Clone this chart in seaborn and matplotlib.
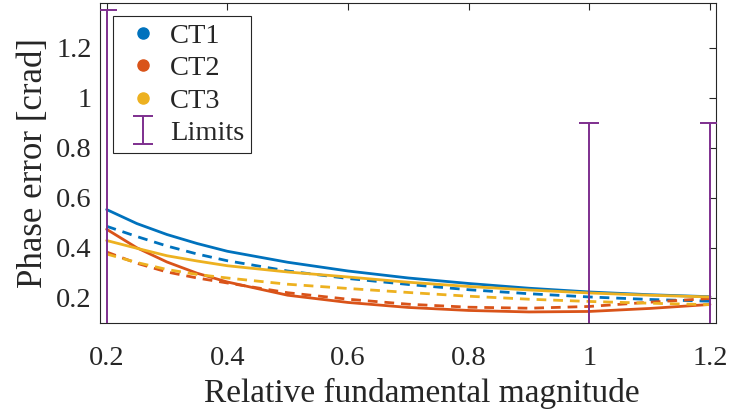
import numpy as np
import pandas as pd
import matplotlib
matplotlib.use("Agg")
import matplotlib.pyplot as plt
import seaborn as sns
from matplotlib.lines import Line2D

# ---- data ----
x_vals = [0.2, 0.25, 0.3, 0.35, 0.4, 0.5, 0.6, 0.7, 0.8, 0.9, 1.0, 1.1, 1.2]
ct1_solid = [0.553, 0.497, 0.453, 0.417, 0.386, 0.342, 0.307, 0.279, 0.257, 0.238, 0.223, 0.212, 0.204]
ct1_dashed = [0.486, 0.445, 0.407, 0.375, 0.348, 0.307, 0.277, 0.253, 0.232, 0.216, 0.203, 0.193, 0.186]
ct2_solid = [0.474, 0.400, 0.343, 0.298, 0.263, 0.210, 0.181, 0.161, 0.149, 0.143, 0.145, 0.157, 0.173]
ct2_dashed = [0.383, 0.338, 0.303, 0.279, 0.259, 0.220, 0.194, 0.174, 0.162, 0.158, 0.165, 0.182, 0.197]
ct3_solid = [0.429, 0.398, 0.368, 0.347, 0.328, 0.303, 0.283, 0.262, 0.245, 0.231, 0.219, 0.210, 0.203]
ct3_dashed = [0.375, 0.341, 0.313, 0.293, 0.279, 0.254, 0.237, 0.221, 0.206, 0.194, 0.185, 0.178, 0.172]

limit_x = [0.2, 1.0, 1.2]
limit_y = [1.35, 0.9, 0.9]
limit_low = [0.0, 0.0, 0.0]

series_names = ["CT1", "CT2", "CT3"]
x_ticks = [0.2, 0.4, 0.6, 0.8, 1.0, 1.2]
x_tick_labels = ["0.2", "0.4", "0.6", "0.8", "1", "1.2"]
y_ticks = [0.2, 0.4, 0.6, 0.8, 1.0, 1.2]
y_tick_labels = ["0.2", "0.4", "0.6", "0.8", "1", "1.2"]

# ---- build long table ----
rows = []
for name, sol, das in zip(series_names,
                          [ct1_solid, ct2_solid, ct3_solid],
                          [ct1_dashed, ct2_dashed, ct3_dashed]):
    for xv, yv in zip(x_vals, sol):
        rows.append((xv, yv, name, "solid"))
    for xv, yv in zip(x_vals, das):
        rows.append((xv, yv, name, "dashed"))
df = pd.DataFrame(rows, columns=["x", "y", "ct", "kind"])

colors = {"CT1": "#0072BD", "CT2": "#D95319", "CT3": "#EDB120"}
limit_color = "#7E2F8E"
axis_color = "#262626"

sns.set_theme(style="white")
plt.rcParams["font.family"] = ["Liberation Serif", "DejaVu Serif"]

fig = plt.figure(figsize=(7.31, 4.16), dpi=100)
ax = fig.add_axes([0.1368, 0.2243, 0.8427, 0.7685])

sns.lineplot(data=df, x="x", y="y", hue="ct", style="kind",
             palette=colors, dashes={"solid": "", "dashed": (3.5, 2.5)},
             style_order=["solid", "dashed"], units="kind", estimator=None,
             linewidth=2.0, legend=False, ax=ax, sort=False)

lo = np.array(limit_y) - np.array(limit_low)
eb = ax.errorbar(limit_x, limit_y, yerr=[lo, np.zeros(len(limit_y))], fmt="none",
                 ecolor=limit_color, elinewidth=1.4, capsize=7, capthick=1.4,
                 label="Limits", zorder=5)

ax.set_xlim(0.189, 1.21)
ax.set_ylim(0.1, 1.38)
ax.set_xticks(x_ticks)
ax.set_xticklabels(x_tick_labels)
ax.set_yticks(y_ticks)
ax.set_yticklabels(y_tick_labels)
ax.tick_params(direction="in", length=5, width=0.8, colors=axis_color,
               labelsize=20.5, top=True, right=True, labelcolor="#262626")
ax.tick_params(axis="x", pad=17)
ax.tick_params(axis="y", pad=6)
for sp in ax.spines.values():
    sp.set_color(axis_color)
    sp.set_linewidth(0.8)
ax.set_xlabel("Relative fundamental magnitude", fontsize=24, color="#262626", labelpad=5)
ax.xaxis.label.set_x(0.523)
ax.set_ylabel("Phase error [crad]", fontsize=25, color="#262626", labelpad=4)

handles = [Line2D([], [], marker="o", ls="none", color=colors[n], markersize=8) for n in series_names]
handles.append(eb)
labels = series_names + ["Limits"]
leg = ax.legend(handles, labels, loc="upper left", bbox_to_anchor=(0.021, 0.959),
                borderaxespad=0, fontsize=20.5, frameon=True, fancybox=False,
                framealpha=1, edgecolor="#262626", handlelength=1.6,
                handletextpad=0.15, labelspacing=0.22, borderpad=0.25)
leg.get_frame().set_linewidth(0.8)

fig.savefig("out.png", dpi=100)
